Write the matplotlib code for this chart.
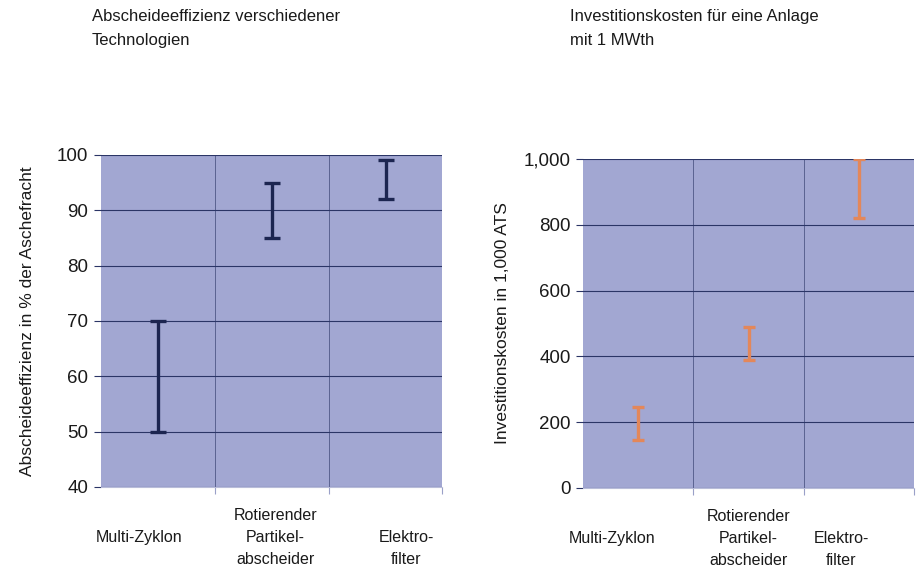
import matplotlib.pyplot as plt
import matplotlib.transforms as mtransforms

# Data
categories = ['\nMulti-Zyklon', 'Rotierender\nPartikel-\nabscheider', '\nElektro-\nfilter']
eff_low = [50, 85, 92]
eff_high = [70, 95, 99]
cost_low = [145, 390, 820]
cost_high = [245, 490, 1000]

eff_ticks = [40, 50, 60, 70, 80, 90, 100]
cost_ticks = [0, 200, 400, 600, 800, 1000]
cost_tick_labels = ['0', '200', '400', '600', '800', '1,000']

# label shifts (in category units) as laid out in the original
shift_left = [-0.17, 0.03, 0.18]
shift_right = [-0.24, 0.0, -0.16]

bg = '#a2a7d2'
grid_col = '#2b3566'
text_col = '#1a1a1a'
plt.rcParams['font.family'] = ['Liberation Sans', 'DejaVu Sans']

fig = plt.figure(figsize=(9.19, 5.70), dpi=100)
ax1 = fig.add_axes([0.1099, 0.1458, 0.3716, 0.5825])
ax2 = fig.add_axes([0.6344, 0.1439, 0.3602, 0.5772])


def style(ax, ticks, ticklabels, ylim, shifts):
    ax.set_facecolor(bg)
    ax.set_xlim(-0.5, 2.5)
    ax.set_ylim(*ylim)
    ax.set_yticks(ticks)
    ax.set_yticklabels(ticklabels, fontsize=13.5, color=text_col)
    for t in ticks:
        ax.axhline(t, color=grid_col, lw=0.8, zorder=1)
    for x in [0.5, 1.5]:
        ax.axvline(x, color=grid_col, lw=0.6, alpha=0.7, zorder=1)
    ax.set_xticks([0.5, 1.5, 2.5])
    ax.set_xticklabels([])
    ax.tick_params(axis='x', length=5, color='#9aa0c8', direction='out')
    ax.tick_params(axis='y', length=5, color=grid_col, pad=4)
    for s in ['top', 'right', 'left']:
        ax.spines[s].set_visible(False)
    ax.spines['bottom'].set_color('#b8bcd8')
    trans = mtransforms.blended_transform_factory(ax.transData, ax.transAxes)
    for i, (lab, dx) in enumerate(zip(categories, shifts)):
        ax.text(i + dx, -0.065, lab, transform=trans, ha='center', va='top',
                fontsize=11.5, linespacing=1.55, color=text_col)


def draw_range(ax, lo, hi, color, lw, cap):
    mid = [(a + b) / 2 for a, b in zip(lo, hi)]
    err = [[m - a for m, a in zip(mid, lo)], [b - m for m, b in zip(mid, hi)]]
    ax.errorbar([0, 1, 2], mid, yerr=err, fmt='none', ecolor=color,
                elinewidth=lw, capsize=cap, capthick=lw, zorder=3)


style(ax1, eff_ticks, [str(t) for t in eff_ticks], (40, 100), shift_left)
draw_range(ax1, eff_low, eff_high, '#1c2550', 2.4, 5.5)
ax1.set_ylabel('Abscheideeffizienz in % der Aschefracht', fontsize=12.5,
               labelpad=16, color=text_col)

style(ax2, cost_ticks, cost_tick_labels, (0, 1000), shift_right)
draw_range(ax2, cost_low, cost_high, '#e3875a', 2.4, 4.5)
ax2.set_ylabel('Investitionskosten in 1,000 ATS', fontsize=12.5,
               labelpad=10, color=text_col)

fig.text(0.1, 0.985, 'Abscheideeffizienz verschiedener\nTechnologien',
         fontsize=12, va='top', ha='left', linespacing=1.75, color=text_col)
fig.text(0.62, 0.985, 'Investitionskosten für eine Anlage\nmit 1 MWth',
         fontsize=12, va='top', ha='left', linespacing=1.75, color=text_col)

fig.savefig('out.png', dpi=100)
